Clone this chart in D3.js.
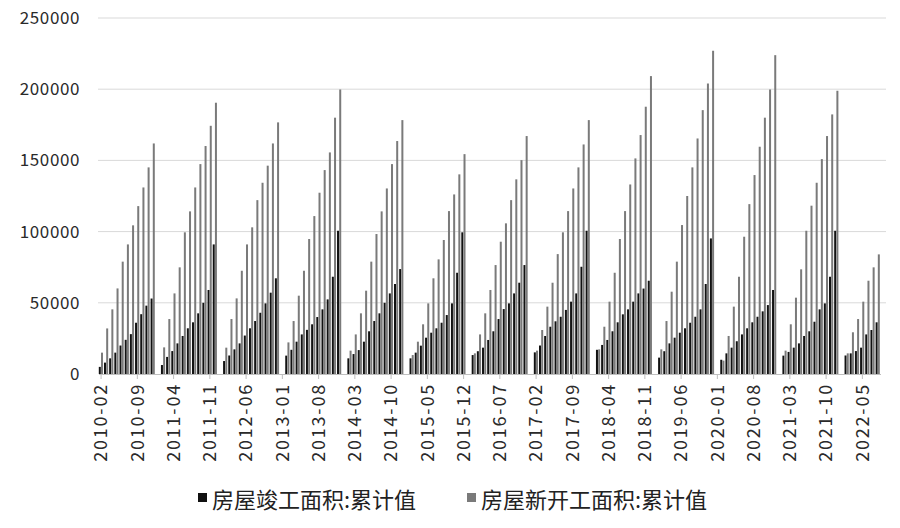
<!DOCTYPE html>
<html>
<head>
<meta charset="utf-8">
<script src="https://cdn.jsdelivr.net/npm/d3@7"></script>
<style>
  body { margin: 0; background: #fff; }
  text { font-family: "Noto Sans CJK SC", "DejaVu Sans", sans-serif; }
</style>
</head>
<body>
<div id="my_dataviz"></div>
<script>
const width = 900
const height = 528

// 累计值, 每年 2月-12月 (1月无数据)
const years = d3.range(2010, 2023)
const completed = {
  2010: [5000, 8000, 11000, 15000, 20000, 24000, 28000, 36000, 42000, 48000, 53000],
  2011: [6300, 12000, 16100, 21500, 26700, 32100, 36300, 42600, 50000, 59000, 91000],
  2012: [9100, 13000, 17300, 21500, 27000, 32100, 37200, 43000, 49600, 57100, 67200],
  2013: [12900, 17000, 22700, 27800, 31000, 34900, 40000, 45400, 52400, 68300, 100600],
  2014: [11000, 14000, 16800, 22700, 30000, 37200, 42600, 50000, 56600, 63200, 73700],
  2015: [11000, 15000, 19900, 25500, 29000, 32100, 36000, 41400, 49600, 71100, 99500],
  2016: [13300, 16000, 18500, 23900, 30000, 38600, 45600, 49600, 56600, 64100, 76500],
  2017: [15200, 20000, 26700, 33200, 37000, 40200, 45000, 50800, 56600, 75300, 100600],
  2018: [17000, 20400, 23900, 30000, 36300, 41900, 45400, 50800, 56600, 60000, 65500],
  2019: [11500, 16000, 21500, 25500, 29000, 32100, 36000, 40200, 45400, 63200, 95200],
  2020: [10000, 14500, 18500, 23000, 27800, 32100, 36300, 40200, 44000, 48400, 59000],
  2021: [12900, 15500, 18500, 21500, 26700, 30000, 36700, 45400, 49600, 68300, 100600],
  2022: [13000, 14500, 16100, 18500, 27800, 30900, 36300]
}
const started = {
  2010: [15000, 32000, 45400, 60100, 78900, 91000, 104400, 117900, 131000, 145100, 161900],
  2011: [18700, 38600, 56600, 74900, 99500, 114200, 131000, 147400, 160100, 174300, 190500],
  2012: [18500, 38600, 53100, 72500, 91000, 103000, 122100, 134300, 146300, 161900, 176700],
  2013: [22200, 37200, 55000, 72500, 94800, 110900, 127300, 143200, 155600, 180000, 199800],
  2014: [16400, 27800, 42600, 58500, 78900, 98300, 114200, 130300, 147400, 163600, 178300],
  2015: [13300, 22700, 34900, 49600, 67200, 80500, 94100, 114400, 126100, 140200, 154400],
  2016: [14500, 27800, 42600, 59000, 76500, 92900, 105800, 122100, 136700, 150200, 167100],
  2017: [16400, 30900, 47300, 64100, 84200, 99500, 114400, 130300, 145100, 161200, 178300],
  2018: [17300, 33200, 50800, 71100, 94800, 114400, 133100, 151400, 167800, 187700, 209200],
  2019: [17300, 37200, 57800, 78900, 104600, 125000, 145100, 165400, 185300, 204000, 227000],
  2020: [9400, 26700, 47300, 68300, 96400, 119300, 139700, 159600, 180000, 199800, 223900],
  2021: [16400, 34900, 53600, 73500, 100600, 118200, 134300, 150900, 167100, 182300, 198900],
  2022: [14500, 29300, 38600, 50800, 65500, 74900, 84000]
}
const yTicks = [0, 50000, 100000, 150000, 200000, 250000]
const seriesNames = ["房屋竣工面积:累计值", "房屋新开工面积:累计值"]

// 月份类别: 2010-02 ... 2022-08
const months = []
const rows = []
years.forEach(y => {
  d3.range(1, 13).forEach(m => {
    if (y === 2010 && m < 2) return
    if (y === 2022 && m > 8) return
    const key = y + "-" + String(m).padStart(2, "0")
    months.push(key)
    const i = m - 2
    rows.push({ key, a: m === 1 ? null : completed[y][i], b: m === 1 ? null : started[y][i] })
  })
})

const svg = d3.select("#my_dataviz")
  .append("svg")
    .attr("width", width)
    .attr("height", height)

const x = d3.scaleBand().domain(months).range([98.5, 880.5])
const y = d3.scaleLinear().domain([0, 250000]).range([374, 18])

svg.append("g")
  .selectAll("line")
  .data(yTicks.slice(1))
  .join("line")
    .attr("x1", 98).attr("x2", 886)
    .attr("y1", d => y(d)).attr("y2", d => y(d))
    .attr("stroke", "#d9d9d9").attr("stroke-width", 1)

svg.append("g")
  .selectAll("text")
  .data(yTicks)
  .join("text")
    .attr("x", 80).attr("y", d => y(d) + 6)
    .attr("text-anchor", "end")
    .style("font-size", "17px").style("letter-spacing", "0.6px").attr("fill", "#2a2a2a")
    .text(d => d)

const bw = 2
svg.append("g")
  .selectAll("rect")
  .data(rows.filter(d => d.a != null))
  .join("rect")
    .attr("x", d => x(d.key) + 0.3)
    .attr("y", d => y(d.a))
    .attr("width", bw)
    .attr("height", d => y(0) - y(d.a))
    .attr("fill", "#111")

svg.append("g")
  .selectAll("rect")
  .data(rows.filter(d => d.b != null))
  .join("rect")
    .attr("x", d => x(d.key) + 2.5)
    .attr("y", d => y(d.b))
    .attr("width", bw)
    .attr("height", d => y(0) - y(d.b))
    .attr("fill", "#7a7a7a")

const labelKeys = months.filter((d, i) => i % 7 === 0)
const xAxis = svg.append("g")
  .attr("transform", "translate(0,374)")
  .call(d3.axisBottom(x).tickValues(labelKeys).tickSize(5).tickSizeOuter(0))
xAxis.select(".domain").attr("stroke", "#bfbfbf")
xAxis.selectAll(".tick line").attr("stroke", "#bfbfbf")
xAxis.selectAll(".tick text")
  .attr("transform", "rotate(-90)")
  .attr("text-anchor", "end")
  .attr("x", -9).attr("y", 0).attr("dy", "0.35em")
  .style("font-size", "18px")
  .style("letter-spacing", "1.8px")
  .style("font-family", "'Noto Sans CJK SC', 'DejaVu Sans', sans-serif")
  .attr("fill", "#2a2a2a")

const legend = svg.append("g")
  .selectAll("g")
  .data(seriesNames)
  .join("g")
    .attr("transform", (d, i) => `translate(${i === 0 ? 198 : 467},500)`)
legend.append("rect")
  .attr("x", 0).attr("y", -7).attr("width", 9).attr("height", 9)
  .attr("fill", (d, i) => i === 0 ? "#111" : "#7a7a7a")
legend.append("text")
  .attr("x", 14).attr("y", 0).attr("dy", "0.35em")
  .style("font-size", "22px").attr("fill", "#222")
  .text(d => d)
</script>
</body>
</html>
